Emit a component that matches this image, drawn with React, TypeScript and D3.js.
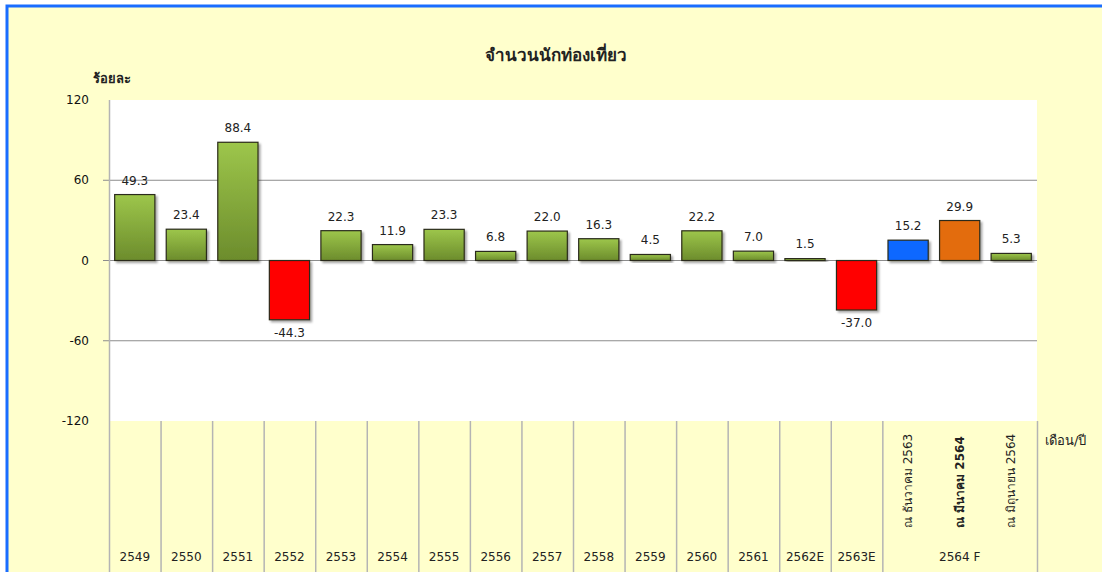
import { useEffect, useRef } from 'react';
import * as d3 from 'd3';

// categories (last three share the "2564 F" group)
const years = ['2549', '2550', '2551', '2552', '2553', '2554', '2555', '2556', '2557', '2558', '2559', '2560', '2561', '2562E', '2563E', '', '', ''];
const forecastLabels = ['ณ ธันวาคม 2563', 'ณ มีนาคม 2564', 'ณ มิถุนายน 2564'];
const values = [49.3, 23.4, 88.4, -44.3, 22.3, 11.9, 23.3, 6.8, 22.0, 16.3, 4.5, 22.2, 7.0, 1.5, -37.0, 15.2, 29.9, 5.3];
const barKinds = ['g', 'g', 'g', 'r', 'g', 'g', 'g', 'g', 'g', 'g', 'g', 'g', 'g', 'g', 'r', 'b', 'o', 'g'];
const yTicks = [120, 60, 0, -60, -120];

const W = 1102;
const H = 572;
const FONT = 'Tahoma, "DejaVu Sans", sans-serif';

const App = () => {
  const svgRef = useRef<SVGSVGElement>(null);

  useEffect(() => {
    const svg = d3.select(svgRef.current);
    svg.selectAll('*').remove();

    const plot = { left: 109, right: 1037, top: 100, bottom: 421 };

    const x = d3
      .scaleBand<number>()
      .domain(values.map((_, i) => i))
      .range([plot.left, plot.right])
      .padding(0);

    const y = d3.scaleLinear().domain([-120, 120]).range([plot.bottom, plot.top]);

    const defs = svg.append('defs');
    const grad = defs
      .append('linearGradient')
      .attr('id', 'green-grad')
      .attr('x1', '0%')
      .attr('y1', '0%')
      .attr('x2', '0%')
      .attr('y2', '100%');
    grad.append('stop').attr('offset', '0%').attr('stop-color', '#9dc64b');
    grad.append('stop').attr('offset', '100%').attr('stop-color', '#6c8c2c');

    const shadow = defs.append('filter').attr('id', 'shadow').attr('x', '-20%').attr('y', '-20%').attr('width', '150%').attr('height', '150%');
    shadow
      .append('feDropShadow')
      .attr('dx', 2)
      .attr('dy', 2)
      .attr('stdDeviation', 1)
      .attr('flood-color', '#000')
      .attr('flood-opacity', 0.35);

    // background frame
    svg.append('rect').attr('width', W).attr('height', H).attr('fill', '#ffffff');
    svg
      .append('rect')
      .attr('x', 7)
      .attr('y', 6)
      .attr('width', W + 20)
      .attr('height', H + 20)
      .attr('fill', '#ffffcc')
      .attr('stroke', '#1a6dff')
      .attr('stroke-width', 3);

    // plot area
    svg
      .append('rect')
      .attr('x', plot.left)
      .attr('y', plot.top)
      .attr('width', plot.right - plot.left)
      .attr('height', plot.bottom - plot.top)
      .attr('fill', '#ffffff');

    // grid lines
    svg
      .append('g')
      .selectAll('line')
      .data(yTicks.filter(t => t !== 120 && t !== -120))
      .enter()
      .append('line')
      .attr('x1', plot.left - 6)
      .attr('x2', plot.right)
      .attr('y1', d => y(d))
      .attr('y2', d => y(d))
      .attr('stroke', '#8c8c8c')
      .attr('stroke-width', 1);

    // y tick labels
    svg
      .append('g')
      .selectAll('text')
      .data(yTicks)
      .enter()
      .append('text')
      .attr('x', 89)
      .attr('y', d => y(d) + 4)
      .attr('text-anchor', 'end')
      .style('font-family', FONT)
      .style('font-size', '12px')
      .style('fill', '#111')
      .text(d => d);

    // left axis line
    svg
      .append('line')
      .attr('x1', plot.left + 0.5)
      .attr('x2', plot.left + 0.5)
      .attr('y1', plot.top)
      .attr('y2', H)
      .attr('stroke', '#b4b4b4')
      .attr('stroke-width', 1.5);

    // category dividers below plot (none inside the 2564 F group)
    const dividerIdx = d3.range(1, values.length + 1).filter(i => i <= 15 || i === values.length);
    svg
      .append('g')
      .selectAll('line')
      .data(dividerIdx)
      .enter()
      .append('line')
      .attr('x1', i => (i === values.length ? plot.right : (x(i) as number)) + 0.5)
      .attr('x2', i => (i === values.length ? plot.right : (x(i) as number)) + 0.5)
      .attr('y1', plot.bottom)
      .attr('y2', H)
      .attr('stroke', '#b4b4b4')
      .attr('stroke-width', 1.5);

    const bw = x.bandwidth() * 0.78;
    const fill = (k: string) =>
      k === 'g' ? 'url(#green-grad)' : k === 'r' ? '#ff0000' : k === 'b' ? '#0a67ff' : '#e36c0a';

    // bars
    svg
      .append('g')
      .selectAll('rect')
      .data(values)
      .enter()
      .append('rect')
      .attr('x', (_, i) => (x(i) as number) + (x.bandwidth() - bw) / 2)
      .attr('y', d => y(Math.max(0, d)))
      .attr('width', bw)
      .attr('height', d => Math.abs(y(d) - y(0)))
      .attr('fill', (_, i) => fill(barKinds[i]))
      .attr('stroke', '#2b2b1a')
      .attr('stroke-width', 1.2)
      .attr('filter', 'url(#shadow)');

    // value labels
    svg
      .append('g')
      .selectAll('text')
      .data(values)
      .enter()
      .append('text')
      .attr('x', (_, i) => (x(i) as number) + x.bandwidth() / 2)
      .attr('y', d => (d >= 0 ? y(d) - 10 : y(d) + 17))
      .attr('text-anchor', 'middle')
      .style('font-family', FONT)
      .style('font-size', '12px')
      .style('fill', '#222')
      .text(d => d.toFixed(1));

    // year labels
    svg
      .append('g')
      .selectAll('text')
      .data(years)
      .enter()
      .append('text')
      .attr('x', (_, i) => (x(i) as number) + x.bandwidth() / 2)
      .attr('y', 561)
      .attr('text-anchor', 'middle')
      .style('font-family', FONT)
      .style('font-size', '12px')
      .style('fill', '#222')
      .text(d => d);

    // forecast group label
    svg
      .append('text')
      .attr('x', (x(16) as number) + x.bandwidth() / 2)
      .attr('y', 561)
      .attr('text-anchor', 'middle')
      .style('font-family', FONT)
      .style('font-size', '12px')
      .style('fill', '#222')
      .text('2564 F');

    // rotated forecast labels
    svg
      .append('g')
      .selectAll('text')
      .data(forecastLabels)
      .enter()
      .append('text')
      .attr('transform', (_, i) => `translate(${(x(15 + i) as number) + x.bandwidth() / 2 + 4}, 528) rotate(-90)`)
      .attr('text-anchor', 'start')
      .style('font-family', FONT)
      .style('font-size', '12px')
      .style('font-weight', (_, i) => (i === 1 ? '600' : 'normal'))
      .style('fill', '#222')
      .text(d => d);

    // title and axis captions
    svg
      .append('text')
      .attr('x', 556)
      .attr('y', 61)
      .attr('text-anchor', 'middle')
      .style('font-family', FONT)
      .style('font-size', '17px')
      .style('font-weight', 'bold')
      .style('fill', '#222')
      .text('จำนวนนักท่องเที่ยว');

    svg
      .append('text')
      .attr('x', 93)
      .attr('y', 83)
      .style('font-family', FONT)
      .style('font-size', '13px')
      .style('font-weight', 'bold')
      .style('fill', '#222')
      .text('ร้อยละ');

    svg
      .append('text')
      .attr('x', 1045)
      .attr('y', 445)
      .style('font-family', FONT)
      .style('font-size', '13px')
      .style('fill', '#222')
      .text('เดือน/ปี');
  }, []);

  return (
    <svg
      ref={svgRef}
      width={W}
      height={H}
      style={{ position: 'absolute', left: 0, top: 0, display: 'block' }}
    ></svg>
  );
};

export default App;
